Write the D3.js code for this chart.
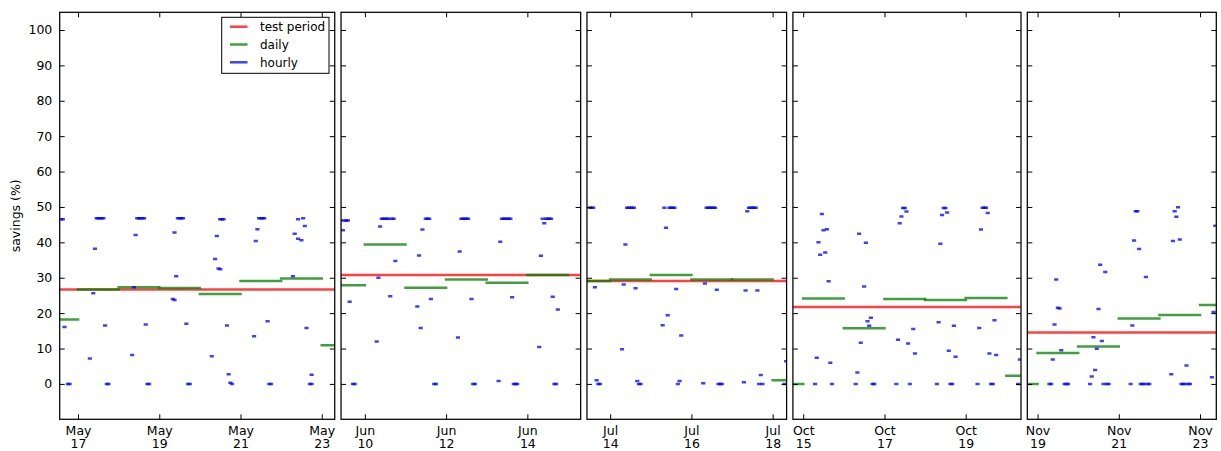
<!DOCTYPE html>
<html><head><meta charset="utf-8">
<script src="https://cdn.jsdelivr.net/npm/d3@7"></script>
<style>
body{margin:0;background:#fff}
svg{display:block}
text{font-family:"DejaVu Sans",sans-serif;fill:#000}
</style>
</head><body>
<svg id="chart" width="1221" height="451"></svg>
<script>
// ---------- data ----------
const panelBase  = ["2015-05-17","2015-06-10","2015-07-14","2015-10-15","2015-11-19"];
const panelStart = ["2015-05-16T13:10","2015-06-09T09:55","2015-07-13T10:18","2015-10-14T17:54","2015-11-18T17:56"];
const panelEnd   = ["2015-05-23T07:40","2015-06-15T07:30","2015-07-18T08:15","2015-10-20T08:40","2015-11-23T09:36"];
// tick days, as day offsets from each panel base date
const xTickDays = [[0,2,4,6],[0,2,4],[0,2,4],[0,2,4],[0,2,4]];
const yTicks = [0,10,20,30,40,50,60,70,80,90,100];
const legendLabels = ["test period","daily","hourly"];

// test period savings (%) per panel
const testPeriod = [26.7, 30.8, 29.1, 21.7, 14.5];

// daily savings: [day offset from base, value]
const daily1 = [[-1,18.2],[0,26.7],[1,27.3],[2,27.1],[3,25.4],[4,29.1],[5,29.8],[6,10.9]];
const daily2 = [[-1,27.9],[0,39.4],[1,27.2],[2,29.5],[3,28.6],[4,30.8]];
const daily3 = [[-1,29.1],[0,29.5],[1,30.8],[2,29.5],[3,29.5],[4,1.0]];
const daily4 = [[-1,0],[0,24.1],[1,15.7],[2,24.0],[3,23.7],[4,24.3],[5,2.3]];
const daily5 = [[-1,0],[0,8.7],[1,10.6],[2,18.5],[3,19.5],[4,22.3]];

// hourly savings: [hour offset from base, value]
const hourly1 = [
 [-10,46.5],[-9,46.5],[-8,16.1],[-6,0],[-5,0],
 [7,7.2],[9,25.6],[10,38.2],[11,46.8],[12,46.8],[13,46.8],[14,46.8],[15,46.8],[16,16.5],[17,0],[18,0],
 [32,8.2],[33,27.3],[34,42.1],[35,46.8],[36,46.8],[37,46.8],[38,46.8],[39,46.8],[40,16.8],[41,0],[42,0],
 [56,24.0],[57,23.7],[57,42.8],[58,30.4],[59,46.8],[60,46.8],[61,46.8],[62,46.8],[64,17.0],[65,0],[66,0],
 [79,7.8],[81,35.3],[82,41.8],[83,32.6],[84,32.4],[84,46.5],[85,46.5],[86,46.5],[88,16.5],[89,2.7],[90,0.3],[91,0],
 [104,13.5],[105,40.4],[106,43.7],[107,46.8],[108,46.8],[109,46.8],[110,46.8],[112,17.7],[113,0],[114,0],
 [127,30.4],[128,42.4],[130,46.5],[130,41.0],[132,40.6],[133,46.8],[134,44.6],[135,15.8],[137,0],[138,0],[138,2.6]
];
const hourly2 = [
 [-14,46.2],[-13,43.4],[-12,46.2],[-11,46.2],[-10,46.2],[-9,23.2],[-7,0],[-6,0],
 [7,12.0],[8,30.0],[9,44.5],[10,46.7],[11,46.7],[12,46.7],[13,46.7],[14,46.7],[15,24.8],[16,46.7],[17,46.7],[18,34.7],
 [31,21.9],[32,36.3],[33,15.8],[34,43.6],[36,46.7],[37,46.7],[38,46.7],[39,24.0],[41,0],[42,0],
 [55,13.1],[56,37.4],[57,46.7],[58,46.7],[59,46.7],[60,46.7],[61,46.7],[63,24.0],[64,0],[65,0],
 [79,0.8],[80,40.2],[81,46.7],[82,46.7],[83,46.7],[84,46.7],[85,46.7],[86,46.7],[87,24.5],[88,0],[89,0],[90,0],
 [103,10.4],[104,36.2],[105,46.7],[106,45.4],[107,46.7],[108,46.7],[109,46.7],[110,46.7],[111,24.6],[112,0],[113,0],[114,21.0]
];
const hourly3 = [
 [-12,49.8],[-11,49.8],[-10,49.8],[-9,27.3],[-8,1.0],[-7,0],[-6,0],
 [7,9.8],[8,28.1],[9,39.4],[10,49.8],[11,49.8],[12,49.8],[13,49.8],[14,49.8],[15,27.0],[16,0.8],[17,0],[18,0],
 [31,16.6],[32,49.8],[33,44.1],[34,19.4],[35,49.8],[36,49.8],[37,49.8],[38,49.8],[39,26.8],[40,0],[41,0.8],[42,13.7],
 [55,0.2],[56,28.4],[57,49.8],[58,49.8],[59,49.8],[60,49.8],[61,49.8],[62,49.8],[63,26.6],[64,0],[65,0],[66,0],
 [79,0.5],[80,26.4],[81,48.8],[82,49.8],[83,49.8],[84,49.8],[85,49.8],[86,49.8],[87,26.4],[88,0],[89,2.5],[90,0],
 [103,0],[104,6.4]
];
const hourly4 = [
 [7,0],[8,7.4],[9,40.0],[10,36.5],[11,48.0],[12,43.4],[13,37.1],[14,43.7],[15,29.0],[16,6.0],[17,0],
 [31,0],[32,3.2],[33,42.4],[34,11.6],[36,27.5],[37,39.9],[38,17.7],[39,16.4],[40,18.7],[41,0],[42,0],
 [55,0],[56,12.5],[57,45.4],[58,47.3],[59,49.7],[60,49.7],[61,48.7],[62,11.4],[63,0],[65,15.5],[66,8.6],
 [79,0],[80,17.4],[81,39.6],[82,47.7],[83,49.7],[84,49.7],[85,48.4],[86,9.4],[87,0],[88,0],[89,16.4],[90,7.7],
 [103,0],[104,15.8],[105,43.6],[106,49.8],[107,49.8],[108,49.8],[109,48.3],[110,8.6],[111,0],[112,0],[113,18.0],[114,8.2],
 [127,0],[128,6.9]
];
const hourly5 = [
 [7,0],[8,0],[9,6.9],[10,16.8],[11,29.5],[12,21.5],[13,21.3],[14,9.5],[16,0],[17,0],[18,0],
 [31,0],[32,2.1],[33,13.2],[34,3.9],[35,9.9],[36,21.2],[37,33.7],[38,12.1],[39,0],[40,31.6],[41,0],[42,0],
 [55,0],[56,16.5],[57,40.5],[58,48.8],[59,48.8],[60,38.1],[61,0],[62,0],[63,0],[64,30.2],[65,0],[66,0],
 [79,2.7],[80,40.4],[81,48.8],[82,47.2],[83,49.9],[84,40.8],[85,0],[86,0],[87,0],[88,5.2],[89,0],[90,0],
 [103,1.9],[104,20.3],[105,44.7]
];
const dailyAll = [daily1,daily2,daily3,daily4,daily5];
const hourlyAll = [hourly1,hourly2,hourly3,hourly4,hourly5];

// ---------- drawing ----------
const svg = d3.select("#chart");
const plotLeft = 59.7, plotRight = 1216.3, plotTop = 12.3, plotBottom = 419.3, gap = 6.3;
const colRed = "#ff0000", colGreen = "#008000", colBlue = "#0000ff";
const lineW = 2.5, alpha = 0.75;
const parseDT = d3.utcParse("%Y-%m-%dT%H:%M"), parseD = d3.utcParse("%Y-%m-%d");
const HOUR = 3600e3, DAY = 24*HOUR;

const starts = panelStart.map(parseDT), ends = panelEnd.map(parseDT), bases = panelBase.map(parseD);
const durations = starts.map((s,i)=>ends[i]-s);
const totalDur = d3.sum(durations);
const pxPerMs = (plotRight - plotLeft - gap*(starts.length-1)) / totalDur;

const y = d3.scaleLinear().domain([-10,105]).range([plotBottom, plotTop]);

let xCursor = plotLeft;
starts.forEach((s,i)=>{
  const w = durations[i]*pxPerMs;
  const x0 = xCursor, x1 = xCursor + w;
  xCursor = x1 + gap;
  const x = d3.scaleUtc().domain([s, ends[i]]).range([x0, x1]);
  const base = bases[i];
  const g = svg.append("g");
  const clipId = "clip"+i;
  svg.append("clipPath").attr("id",clipId).append("rect")
    .attr("x",x0).attr("y",plotTop).attr("width",w).attr("height",plotBottom-plotTop);
  const marks = g.append("g").attr("clip-path",`url(#${clipId})`);

  // test period line
  marks.append("line")
    .attr("x1",x0).attr("x2",x1).attr("y1",y(testPeriod[i])).attr("y2",y(testPeriod[i]))
    .attr("stroke",colRed).attr("stroke-width",lineW).attr("stroke-opacity",alpha);

  // daily segments
  marks.selectAll("line.daily").data(dailyAll[i]).join("line").attr("class","daily")
    .attr("x1",d=>x(new Date(+base + d[0]*DAY)))
    .attr("x2",d=>x(new Date(+base + (d[0]+1)*DAY)))
    .attr("y1",d=>y(d[1])).attr("y2",d=>y(d[1]))
    .attr("stroke",colGreen).attr("stroke-width",lineW).attr("stroke-opacity",alpha)
    .attr("stroke-linecap","square");

  // hourly segments
  marks.selectAll("line.hourly").data(hourlyAll[i]).join("line").attr("class","hourly")
    .attr("x1",d=>x(new Date(+base + (d[0]-0.5)*HOUR)))
    .attr("x2",d=>x(new Date(+base + (d[0]+0.5)*HOUR)))
    .attr("y1",d=>y(d[1])).attr("y2",d=>y(d[1]))
    .attr("stroke",colBlue).attr("stroke-width",lineW).attr("stroke-opacity",alpha)
    .attr("stroke-linecap","square");

  // axes
  const tickDates = xTickDays[i].map(k=>new Date(+base + k*DAY));
  const fmtMon = d3.utcFormat("%b"), fmtDay = d3.utcFormat("%d");
  const axB = g.append("g").attr("transform",`translate(0,${plotBottom})`)
    .call(d3.axisBottom(x).tickValues(tickDates).tickSize(-5).tickPadding(0).tickFormat(""));
  axB.selectAll(".tick text").remove();
  axB.selectAll(".tick").append("text")
    .attr("text-anchor","middle").style("font-size","12.5px")
    .each(function(d){
      const t = d3.select(this);
      t.append("tspan").attr("x",0).attr("y",15.8).text(fmtMon(d));
      t.append("tspan").attr("x",0).attr("y",28.6).text(fmtDay(d));
    });
  g.append("g").attr("transform",`translate(0,${plotTop})`)
    .call(d3.axisTop(x).tickValues(tickDates).tickSize(-5).tickFormat(""));
  const axL = g.append("g").attr("transform",`translate(${x0},0)`)
    .call(d3.axisLeft(y).tickValues(yTicks).tickSize(-5).tickPadding(7.4)
      .tickFormat(i===0 ? d3.format("d") : ""));
  axL.selectAll("text").style("font-size","12.5px").attr("fill","#000");
  g.append("g").attr("transform",`translate(${x1},0)`)
    .call(d3.axisRight(y).tickValues(yTicks).tickSize(-5).tickFormat(""));
  g.selectAll(".domain").remove();
  g.selectAll(".tick line").attr("stroke","#000").attr("stroke-width",1);

  // frame
  g.append("rect").attr("x",x0).attr("y",plotTop).attr("width",w).attr("height",plotBottom-plotTop)
    .attr("fill","none").attr("stroke","#000").attr("stroke-width",1.25);

  if(i===0){
    // legend
    const lg = g.append("g");
    lg.append("rect").attr("x",221.7).attr("y",17.3).attr("width",107.3).attr("height",56)
      .attr("fill","#fff").attr("stroke","#000").attr("stroke-width",1);
    const cols = [colRed,colGreen,colBlue];
    legendLabels.forEach((lab,k)=>{
      const yy = 26.7 + k*17.8;
      lg.append("line").attr("x1",230).attr("x2",247.5).attr("y1",yy).attr("y2",yy)
        .attr("stroke",cols[k]).attr("stroke-width",lineW).attr("stroke-opacity",alpha);
      lg.append("text").attr("x",260).attr("y",yy).attr("dy","0.35em")
        .style("font-size","12px").text(lab);
    });
  }
});

// y label
svg.append("text").attr("transform",`translate(16,${(plotTop+plotBottom)/2}) rotate(-90)`)
  .attr("text-anchor","middle").attr("dy","0.35em").style("font-size","12.5px").text("savings (%)");
</script>
</body></html>
